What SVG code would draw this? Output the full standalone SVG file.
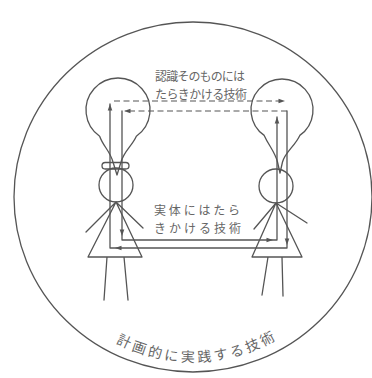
<svg xmlns="http://www.w3.org/2000/svg" width="372" height="378" viewBox="0 0 372 378">
  <style>
    .ln{fill:none;stroke:#555;stroke-width:1.3;stroke-linecap:round;stroke-linejoin:round}
    .dash{fill:none;stroke:#555;stroke-width:1.2;stroke-dasharray:6 3.5}
    .ah{fill:#555}
    .lbl{font-family:"Noto Sans CJK JP","Noto Sans CJK SC",sans-serif;fill:#666;font-size:12px}
    .big{font-size:14px;letter-spacing:3px}
  </style>
  <defs>
    <!-- arrowhead pointing along +x, tip at origin -->
    <path id="ah" d="M0,0 L-6.5,-2.3 L-6.5,2.3 Z"/>
    <!-- baseline for the lettering along the lower rim -->
    <path id="rim" d="M57.8,291.6 A165,165 0 0 0 328.2,291.6"/>
  </defs>
  <rect width="372" height="378" fill="#fff"/>

  <!-- outer boundary -->
  <g id="planning-circle">
    <ellipse class="ln" cx="193" cy="197" rx="179" ry="175"/>
  </g>

  <!-- left figure with bulb and collar -->
  <g id="bulb-left">
    <path class="ln" d="M99.65,136.2 C103,146 110,151 113,162 L117,175 L121,162 C124,151 132,146 136.35,136.2 A32,32 0 1 0 99.65,136.2 Z"/>
    <rect class="ln" x="102" y="162.5" width="27" height="6.5" rx="3.2"/>
  </g>
  <g id="person-left">
    <circle class="ln" cx="116" cy="185" r="17"/>
    <path class="ln" d="M116,202 L86,232 M116,202 L143,228 M116,202 L88,257 H142 Z M107,257 L104,300 M124,257 L128,300"/>
  </g>

  <!-- right figure with bulb -->
  <g id="bulb-right">
    <path class="ln" d="M264.2,135.4 C269,146 275,152 277.5,162 L280,173 L282.5,162 C285,152 295,146 299.8,135.4 A31,31 0 1 0 264.2,135.4 Z"/>
  </g>
  <g id="person-right">
    <circle class="ln" cx="276" cy="186" r="17"/>
    <path class="ln" d="M276,203 L254,229 M276,203 L307,223 M276,203 L252,257 H302 Z M268,257 L262,295 M282,257 L283,296"/>
  </g>

  <!-- flows between the two figures -->
  <g id="connectors">
    <path class="ln" d="M122,111 V240 H277 V117"/>
    <path class="ln" d="M287,111 V248 H110 V104"/>
    <path class="dash" d="M114,101 H283"/>
    <path class="dash" d="M287,111 H125"/>
    <use class="ah" href="#ah" transform="translate(122,236) rotate(90)"/>
    <use class="ah" href="#ah" transform="translate(273,240)"/>
    <use class="ah" href="#ah" transform="translate(277,117) rotate(-90)"/>
    <use class="ah" href="#ah" transform="translate(287,245) rotate(90)"/>
    <use class="ah" href="#ah" transform="translate(115,248) rotate(180)"/>
    <use class="ah" href="#ah" transform="translate(110,104) rotate(-90)"/>
    <use class="ah" href="#ah" transform="translate(285,101)"/>
    <use class="ah" href="#ah" transform="translate(124,111) rotate(180)"/>
  </g>

  <!-- labels -->
  <g id="label-cognition">
    <text class="lbl" x="155" y="81" textLength="90">認識そのものには</text>
    <text class="lbl" x="155" y="99" textLength="92">たらきかける技術</text>
  </g>
  <g id="label-substance">
    <text class="lbl" x="154" y="215" font-size="13" textLength="86">実体にはたら</text>
    <text class="lbl" x="154" y="233" font-size="13" textLength="87">きかける技術</text>
  </g>
  <g id="label-planning">
    <text class="lbl big"><textPath href="#rim" startOffset="51.5%" text-anchor="middle">計画的に実践する技術</textPath></text>
  </g>
</svg>
